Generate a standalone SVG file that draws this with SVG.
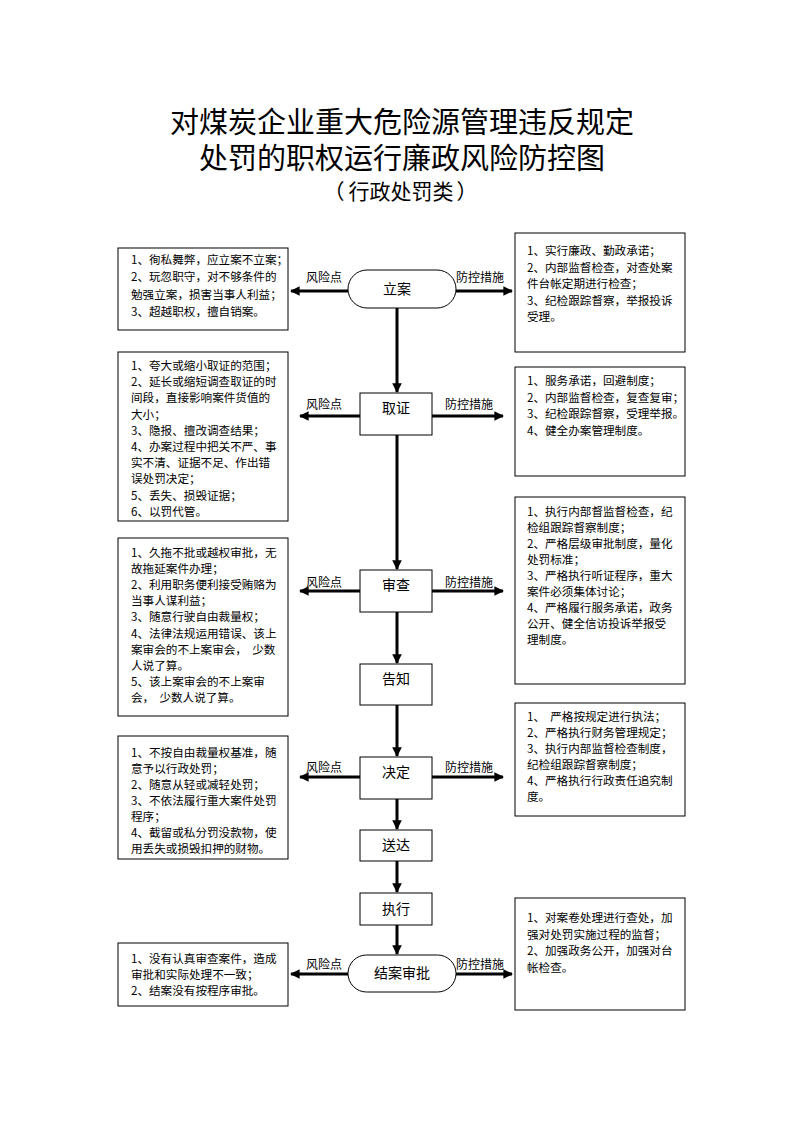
<svg xmlns="http://www.w3.org/2000/svg" width="794" height="1123" viewBox="0 0 794 1123">
<style>
.title{font-family:"Noto Sans CJK SC","Liberation Sans",sans-serif;fill:#000;text-anchor:middle}
.t{font-family:"Noto Sans CJK SC","Liberation Sans",sans-serif;font-size:11.6px;fill:#000;white-space:pre}
.lbl{font-family:"Noto Sans CJK SC","Liberation Sans",sans-serif;font-size:12px;fill:#000;text-anchor:middle}
.node{font-family:"Noto Sans CJK SC","Liberation Sans",sans-serif;font-size:14px;fill:#000;text-anchor:middle}
.box{fill:#fff;stroke:#000;stroke-width:1}
.ln{stroke:#000;stroke-width:3;fill:none}
</style>
<defs>
<marker id="ah" viewBox="0 0 10 10" refX="9" refY="5" markerWidth="3.6" markerHeight="3.2" orient="auto" markerUnits="strokeWidth">
<path d="M0,0 L10,5 L0,10 z" fill="#000"/>
</marker>
</defs>
<rect width="794" height="1123" fill="#fff"/>
<g id="title">
<text class="title" font-size="29"><tspan x="402" y="133">对煤炭企业重大危险源管理违反规定</tspan><tspan x="402" y="169">处罚的职权运行廉政风险防控图</tspan></text>
<text class="title" y="199" font-size="21"><tspan x="334">（</tspan><tspan x="401">行政处罚类</tspan><tspan x="467">）</tspan></text>
</g>
<g id="connectors">
<line class="ln" x1="397" y1="308" x2="397" y2="392" marker-end="url(#ah)"/>
<line class="ln" x1="397" y1="435" x2="397" y2="569" marker-end="url(#ah)"/>
<line class="ln" x1="397" y1="612" x2="397" y2="663" marker-end="url(#ah)"/>
<line class="ln" x1="397" y1="705" x2="397" y2="756" marker-end="url(#ah)"/>
<line class="ln" x1="397" y1="799" x2="397" y2="829" marker-end="url(#ah)"/>
<line class="ln" x1="397" y1="861" x2="397" y2="892" marker-end="url(#ah)"/>
<line class="ln" x1="397" y1="925" x2="397" y2="954" marker-end="url(#ah)"/>
<line class="ln" x1="348" y1="291" x2="291" y2="291" marker-end="url(#ah)"/>
<line class="ln" x1="456" y1="291" x2="512" y2="291" marker-end="url(#ah)"/>
<line class="ln" x1="360" y1="416" x2="300" y2="416" marker-end="url(#ah)"/>
<line class="ln" x1="432" y1="416" x2="503" y2="416" marker-end="url(#ah)"/>
<line class="ln" x1="360" y1="591" x2="300" y2="591" marker-end="url(#ah)"/>
<line class="ln" x1="432" y1="591" x2="503" y2="591" marker-end="url(#ah)"/>
<line class="ln" x1="360" y1="777" x2="300" y2="777" marker-end="url(#ah)"/>
<line class="ln" x1="432" y1="777" x2="503" y2="777" marker-end="url(#ah)"/>
<line class="ln" x1="348" y1="974" x2="291" y2="974" marker-end="url(#ah)"/>
<line class="ln" x1="456" y1="974" x2="512" y2="974" marker-end="url(#ah)"/>
<text class="lbl" x="324" y="282">风险点</text>
<text class="lbl" x="480" y="282">防控措施</text>
<text class="lbl" x="324" y="409">风险点</text>
<text class="lbl" x="469" y="409">防控措施</text>
<text class="lbl" x="324" y="587">风险点</text>
<text class="lbl" x="469" y="587">防控措施</text>
<text class="lbl" x="324" y="772">风险点</text>
<text class="lbl" x="469" y="772">防控措施</text>
<text class="lbl" x="324" y="969">风险点</text>
<text class="lbl" x="480" y="969">防控措施</text>
</g>
<g id="n-lian">
<rect class="box" x="348" y="270" width="108" height="38" rx="19"/>
<text class="node" x="397" y="294">立案</text>
</g>
<g id="n-quzheng">
<rect class="box" x="360" y="393" width="72" height="42"/>
<text class="node" x="396" y="413">取证</text>
</g>
<g id="n-shencha">
<rect class="box" x="360" y="570" width="72" height="42"/>
<text class="node" x="396" y="590">审查</text>
</g>
<g id="n-gaozhi">
<rect class="box" x="360" y="664" width="72" height="41"/>
<text class="node" x="396" y="684">告知</text>
</g>
<g id="n-jueding">
<rect class="box" x="360" y="757" width="72" height="42"/>
<text class="node" x="396" y="777">决定</text>
</g>
<g id="n-songda">
<rect class="box" x="360" y="830" width="72" height="31"/>
<text class="node" x="396" y="850">送达</text>
</g>
<g id="n-zhixing">
<rect class="box" x="360" y="893" width="72" height="32"/>
<text class="node" x="396" y="914">执行</text>
</g>
<g id="n-jiean">
<rect class="box" x="348" y="955" width="108" height="37" rx="18.5"/>
<text class="node" x="402" y="978">结案审批</text>
</g>
<g id="risk-1">
<rect class="box" x="118" y="248" width="170" height="82"/>
<text class="t"><tspan x="131" y="264">1、徇私舞弊，应立案不立案；</tspan><tspan x="131" y="281">2、玩忽职守，对不够条件的</tspan><tspan x="131" y="299">勉强立案，损害当事人利益；</tspan><tspan x="131" y="316">3、超越职权，擅自销案。</tspan></text>
</g>
<g id="ctrl-1">
<rect class="box" x="515" y="233" width="170" height="119"/>
<text class="t"><tspan x="527" y="255">1、实行廉政、勤政承诺；</tspan><tspan x="527" y="271.5">2、内部监督检查，对查处案</tspan><tspan x="527" y="288">件台帐定期进行检查；</tspan><tspan x="527" y="304.5">3、纪检跟踪督察，举报投诉</tspan><tspan x="527" y="321">受理。</tspan></text>
</g>
<g id="risk-2">
<rect class="box" x="118" y="352" width="170" height="169"/>
<text class="t"><tspan x="131" y="370">1、夸大或缩小取证的范围；</tspan><tspan x="131" y="386.2">2、延长或缩短调查取证的时</tspan><tspan x="131" y="402.4">间段，直接影响案件货值的</tspan><tspan x="131" y="418.6">大小；</tspan><tspan x="131" y="434.8">3、隐报、擅改调查结果；</tspan><tspan x="131" y="451">4、办案过程中把关不严、事</tspan><tspan x="131" y="467.2">实不清、证据不足、作出错</tspan><tspan x="131" y="483.4">误处罚决定；</tspan><tspan x="131" y="499.6">5、丢失、损毁证据；</tspan><tspan x="131" y="515.8">6、以罚代管。</tspan></text>
</g>
<g id="ctrl-2">
<rect class="box" x="515" y="367" width="170" height="109"/>
<text class="t"><tspan x="527" y="385">1、服务承诺，回避制度；</tspan><tspan x="527" y="401.5">2、内部监督检查，复查复审；</tspan><tspan x="527" y="418">3、纪检跟踪督察，受理举报。</tspan><tspan x="527" y="434.5">4、健全办案管理制度。</tspan></text>
</g>
<g id="risk-3">
<rect class="box" x="118" y="538" width="170" height="178"/>
<text class="t"><tspan x="131" y="557">1、久拖不批或越权审批，无</tspan><tspan x="131" y="573.1">故拖延案件办理；</tspan><tspan x="131" y="589.2">2、利用职务便利接受贿赂为</tspan><tspan x="131" y="605.3">当事人谋利益；</tspan><tspan x="131" y="621.4">3、随意行驶自由裁量权；</tspan><tspan x="131" y="637.5">4、法律法规运用错误、该上</tspan><tspan x="131" y="653.6">案审会的不上案审会，  少数</tspan><tspan x="131" y="669.7">人说了算。</tspan><tspan x="131" y="685.8">5、该上案审会的不上案审</tspan><tspan x="131" y="701.9">会，  少数人说了算。</tspan></text>
</g>
<g id="ctrl-3">
<rect class="box" x="515" y="497" width="170" height="187"/>
<text class="t"><tspan x="527" y="516">1、执行内部督监督检查，纪</tspan><tspan x="527" y="532">检组跟踪督察制度；</tspan><tspan x="527" y="548">2、严格层级审批制度，量化</tspan><tspan x="527" y="564">处罚标准；</tspan><tspan x="527" y="580">3、严格执行听证程序，重大</tspan><tspan x="527" y="596">案件必须集体讨论；</tspan><tspan x="527" y="612">4、严格履行服务承诺，政务</tspan><tspan x="527" y="628">公开、健全信访投诉举报受</tspan><tspan x="527" y="644">理制度。</tspan></text>
</g>
<g id="risk-4">
<rect class="box" x="118" y="736" width="170" height="123"/>
<text class="t"><tspan x="131" y="757">1、不按自由裁量权基准，随</tspan><tspan x="131" y="773">意予以行政处罚；</tspan><tspan x="131" y="789">2、随意从轻或减轻处罚；</tspan><tspan x="131" y="805">3、不依法履行重大案件处罚</tspan><tspan x="131" y="821">程序；</tspan><tspan x="131" y="837">4、截留或私分罚没款物，使</tspan><tspan x="131" y="853">用丢失或损毁扣押的财物。</tspan></text>
</g>
<g id="ctrl-4">
<rect class="box" x="515" y="703" width="170" height="113"/>
<text class="t"><tspan x="527" y="721">1、  严格按规定进行执法；</tspan><tspan x="527" y="737">2、严格执行财务管理规定；</tspan><tspan x="527" y="753">3、执行内部监督检查制度，</tspan><tspan x="527" y="769">纪检组跟踪督察制度；</tspan><tspan x="527" y="785">4、严格执行行政责任追究制</tspan><tspan x="527" y="801">度。</tspan></text>
</g>
<g id="risk-5">
<rect class="box" x="118" y="943" width="170" height="63"/>
<text class="t"><tspan x="131" y="963">1、没有认真审查案件，造成</tspan><tspan x="131" y="979">审批和实际处理不一致；</tspan><tspan x="131" y="995">2、结案没有按程序审批。</tspan></text>
</g>
<g id="ctrl-5">
<rect class="box" x="515" y="898" width="170" height="112"/>
<text class="t"><tspan x="527" y="922">1、对案卷处理进行查处，加</tspan><tspan x="527" y="938.5">强对处罚实施过程的监督；</tspan><tspan x="527" y="955">2、加强政务公开，加强对台</tspan><tspan x="527" y="971.5">帐检查。</tspan></text>
</g>
</svg>
